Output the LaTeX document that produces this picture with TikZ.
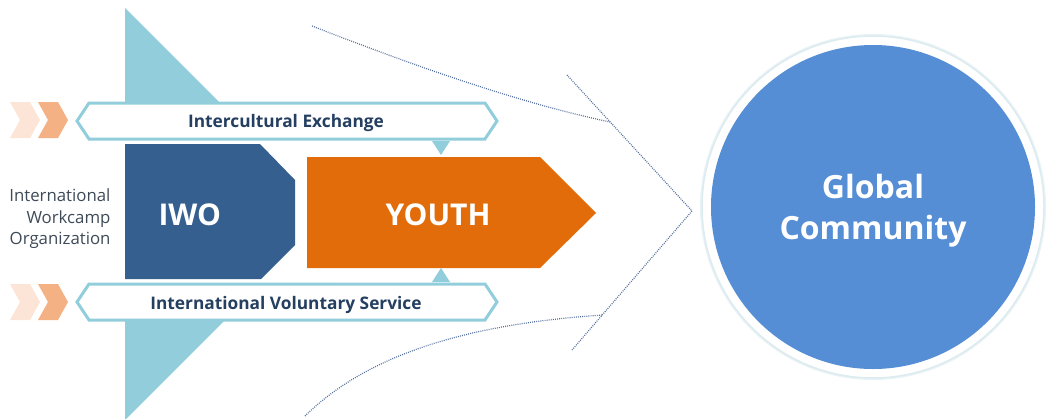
\documentclass[tikz,border=0pt]{standalone}
\usepackage{fontspec}
\setmainfont{Open Sans}
\definecolor{tri}{HTML}{92CDDC}
\definecolor{peachA}{HTML}{FCE4D6}
\definecolor{peachB}{HTML}{F4B183}
\definecolor{iwo}{HTML}{355F8F}
\definecolor{youth}{HTML}{E36C0A}
\definecolor{navy}{HTML}{243F60}
\definecolor{gray}{HTML}{3E4A57}
\definecolor{dots}{HTML}{4F6C9C}
\definecolor{globe}{HTML}{558ED5}
\definecolor{ring}{HTML}{DCEBF0}
\tikzset{
  banner/.style={draw=tri, line width=3pt, fill=white, line join=miter},
  bannertext/.style={font=\bfseries\fontsize{17.3}{20}\selectfont, text=navy},
  bigtext/.style={font=\bfseries\fontsize{30}{36}\selectfont, text=white},
  dotline/.style={draw=dots, line width=1.2pt, dash pattern=on 0.9pt off 1.2pt},
  pointer/.style={fill=tri}
}
\begin{document}
\begin{tikzpicture}[x=1pt,y=-1pt]
\useasboundingbox (0,0) rectangle (1048,418);
% big light-blue triangle
\fill[tri] (125,8) -- (331,214) -- (125,420) -- cycle;
\fill[white] (120,139) rectangle (335,284);
% dotted arrow outline
\draw[dotline] (312,26) .. controls (420,68) and (520,103) .. (610,122);
\draw[dotline] (305,416) .. controls (360,362) and (450,325) .. (603,315);
\coordinate (tipT) at (567,75);
\coordinate (tip) at (692,211);
\coordinate (tipB) at (572,350);
\draw[dotline] (tipT) -- (tip) -- (tipB);
% chevrons
\foreach \y in {102,284}{
  \fill[peachA] (10,\y) -- (30,\y) -- (40,\y+18) -- (30,\y+36) -- (10,\y+36) -- (20,\y+18) -- cycle;
  \fill[peachB] (38,\y) -- (58,\y) -- (68,\y+18) -- (58,\y+36) -- (38,\y+36) -- (48,\y+18) -- cycle;
}
% banners
\draw[banner] (77,121) -- (89,103) -- (485,103) -- (497,121) -- (485,139) -- (89,139) -- cycle;
\fill[pointer] (432,141) -- (450,141) -- (441,155) -- cycle;
\draw[banner] (77,302) -- (89,284) -- (485,284) -- (497,302) -- (485,320) -- (89,320) -- cycle;
\fill[pointer] (432,282) -- (450,282) -- (441,268) -- cycle;
\node[bannertext] (ie) at (286,123.5) {Intercultural Exchange};
\node[bannertext] (ivs) at (286,304.5) {International Voluntary Service};
% IWO
\fill[iwo] (125,144) -- (260,144) -- (295,180) -- (295,245) -- (261,279) -- (125,279) -- cycle;
\node[bigtext, anchor=west] (iwo) at (155,215) {IWO};
% YOUTH
\fill[youth] (307,157) -- (540,157) -- (596,213) -- (540,268) -- (307,268) -- cycle;
\node[bigtext] (youth) at (438,215) {YOUTH};
% left label
\node[align=right, anchor=east, text=gray, font=\fontsize{16.8}{21.5}\selectfont] (org) at (114,219) {International\\Workcamp\\Organization};
% globe
\fill[ring!60!white] (873,207) circle (173);
\draw[ring, line width=1.5pt, fill=white] (873,207) circle (171);
\node[circle, fill=globe, minimum size=324pt, inner sep=0pt] (gc) at (873,207) {};
\node[align=center, text=white, font=\bfseries\fontsize{32}{41}\selectfont] (gctext) at (873,211) {Global\\Community};
\end{tikzpicture}
\end{document}
